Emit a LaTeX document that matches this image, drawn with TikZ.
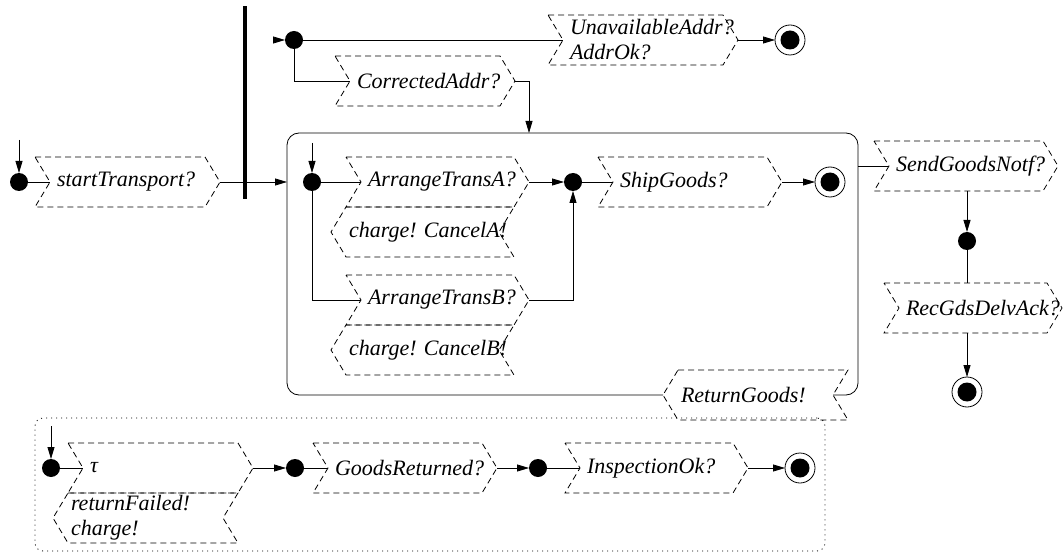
\documentclass[tikz,border=0pt]{standalone}
\usepackage{fontspec}
\setmainfont{Liberation Serif}
\usetikzlibrary{arrows.meta}
\hyphenpenalty=10000
\exhyphenpenalty=10000
\frenchspacing
\newcommand\lblfont{\itshape\fontsize{22}{25}\selectfont}
\tikzset{
  ln/.style={line width=0.8pt},
  arr/.style={ln, -{Triangle[length=12pt,width=7pt]}},
  chev/.style={line width=0.8pt, dash pattern=on 6pt off 4pt},
  base/.style={rectangle, minimum height=50pt, inner ysep=0pt, outer sep=0pt, align=left, font=\lblfont},
  recv/.style={base, inner xsep=22pt, text width=#1,
    append after command={\pgfextra{\draw[chev] (\tikzlastnode.north west) -- (\tikzlastnode.north east) -- ([xshift=15pt]\tikzlastnode.east) -- (\tikzlastnode.south east) -- (\tikzlastnode.south west) -- ([xshift=15pt]\tikzlastnode.west) -- cycle;}}},
  send/.style={base, inner xsep=3pt, text width=#1,
    append after command={\pgfextra{\draw[chev] (\tikzlastnode.north west) -- (\tikzlastnode.north east) -- ([xshift=-15pt]\tikzlastnode.east) -- (\tikzlastnode.south east) -- (\tikzlastnode.south west) -- ([xshift=-15pt]\tikzlastnode.west) -- cycle;}}},
  dot/.style={circle, fill=black, minimum size=18pt, inner sep=0pt, outer sep=0pt},
  final/.style={circle, draw, line width=0.8pt, minimum size=30pt, inner sep=0pt, outer sep=0pt,
    path picture={\fill[black] (path picture bounding box.center) circle (9.5pt);}},
  forkbar/.style={rectangle, fill=black, minimum width=3.5pt, minimum height=193pt, inner sep=0pt, outer sep=0pt},
}
\begin{document}
\begin{tikzpicture}[x=1pt,y=-1pt]
\useasboundingbox (0,0) rectangle (1064,553);

% containers
\node[rectangle, minimum width=571pt, minimum height=262pt, inner sep=0pt, outer sep=0pt] (inner) at (572.5,264) {};
\node[draw, line width=0.8pt, dash pattern=on 1pt off 4pt, rounded corners=8pt, minimum width=790pt, minimum height=133pt, inner sep=0pt, outer sep=0pt] (outer) at (430,484.5) {};

% fork bar
\node[forkbar] (bar) at (245,102.5) {};

% dots
\node[dot] (i0) at (19,182) {};
\node[dot] (d1) at (294,40) {};
\node[dot] (i1) at (312,182) {};
\node[dot] (d2) at (573,182) {};
\node[dot] (d3) at (967,241) {};
\node[dot] (i2) at (51,468) {};
\node[dot] (d4) at (295,468) {};
\node[dot] (d5) at (538,468) {};

% finals
\node[final] (fA) at (790,40) {};
\node[final] (fB) at (830,182) {};
\node[final] (fC) at (967,392) {};
\node[final] (fD) at (800,468) {};

% action boxes
\node[recv=126pt] (st) at (120,182) {startTransport?};
\node[recv=131pt] (ua) at (635.5,40) {UnavailableAddr?\\AddrOk?};
\node[recv=121pt] (ca) at (417.5,81) {CorrectedAddr?};
\node[recv=124pt] (ata) at (430,182) {ArrangeTransA?};
\node[send=162pt] (cna) at (430,232) {charge! CancelA!};
\node[recv=124pt] (atb) at (430,300) {ArrangeTransB?};
\node[send=162pt] (cnb) at (430,350) {charge! CancelB!};
\node[recv=125pt] (sg) at (682.5,182) {ShipGoods?};
\node[recv=125pt] (sgn) at (958.5,166) {SendGoodsNotf?};
\node[recv=119pt] (rg) at (965.5,308) {RecGdsDelvAck?};
\node[send=164pt] (ret) at (763,395) {ReturnGoods!};
\node[recv=126pt] (tau) at (153,468) {τ};
\node[send=164pt] (rf) at (153,518) {returnFailed!\\charge!};
\node[recv=125pt] (gr) at (397.5,468) {GoodsReturned?};
\node[recv=124pt] (io) at (649,468) {InspectionOk?};

% inner box outline, interrupted by ReturnGoods!
\draw[ln, rounded corners=12pt] ([xshift=-15pt]ret.west) -- (inner.south west) -- (inner.north west) -- (inner.north east) -- (inner.south east) -- ([xshift=-15pt]ret.east);

% start coordinates
\coordinate (i0in) at (19,140);
\coordinate (i1in) at (312,143);
\coordinate (i2in) at (51,426);
\coordinate (caturn) at (529,81);

% connectors
\draw[arr] (i0in) -- (i0);
\draw[ln] (i0) -- ([xshift=15pt]st.west);
\draw[arr] ([xshift=15pt]st.east) -- (inner.west |- st);
\draw[line width=0.6pt, double, double distance=1.4pt] (bar.east |- d1) -- ([xshift=-11pt]d1.west);
\draw[arr] ([xshift=-12pt]d1.west) -- (d1);
\draw[ln] (d1) -- ([xshift=15pt]ua.west);
\draw[arr] ([xshift=15pt]ua.east) -- (fA);
\draw[ln] (d1) |- ([xshift=15pt]ca.west);
\draw[arr] ([xshift=15pt]ca.east) -- (caturn) -- (caturn |- inner.north);

\draw[arr] (i1in) -- (i1);
\draw[ln] (i1) -- ([xshift=15pt]ata.west);
\draw[ln] (i1) |- ([xshift=15pt]atb.west);
\draw[arr] ([xshift=15pt]ata.east) -- (d2);
\draw[arr] ([xshift=15pt]atb.east) -| (d2);
\draw[ln] (d2) -- ([xshift=15pt]sg.west);
\draw[arr] ([xshift=15pt]sg.east) -- (fB);

\draw[ln] (inner.east |- sgn) -- ([xshift=15pt]sgn.west);
\draw[arr] (sgn.south -| d3) -- (d3);
\draw[ln] (d3) -- (rg.north -| d3);
\draw[arr] (rg.south -| d3) -- (fC);

\draw[arr] (i2in) -- (i2);
\draw[ln] (i2) -- ([xshift=15pt]tau.west);
\draw[arr] ([xshift=15pt]tau.east) -- (d4);
\draw[ln] (d4) -- ([xshift=15pt]gr.west);
\draw[arr] ([xshift=15pt]gr.east) -- (d5);
\draw[ln] (d5) -- ([xshift=15pt]io.west);
\draw[arr] ([xshift=15pt]io.east) -- (fD);
\end{tikzpicture}
\end{document}
